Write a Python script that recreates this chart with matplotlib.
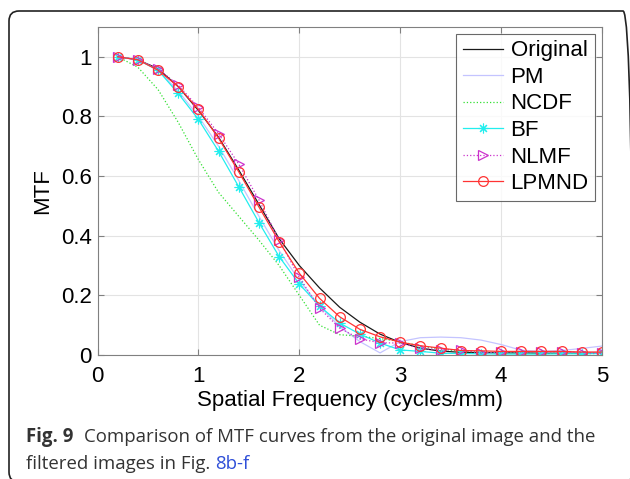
import matplotlib
matplotlib.use("Agg")
import matplotlib.pyplot as plt
from matplotlib.patches import FancyBboxPatch

freq = [0.2, 0.4, 0.6, 0.8, 1.0, 1.2, 1.4, 1.6, 1.8, 2.0, 2.2, 2.4, 2.6,
        2.8, 3.0, 3.2, 3.4, 3.6, 3.8, 4.0, 4.2, 4.4, 4.6, 4.8, 5.0]

original = [1.0, 0.99, 0.96, 0.90, 0.82, 0.73, 0.62, 0.505, 0.39, 0.30, 0.225, 0.16, 0.11,
            0.07, 0.042, 0.023, 0.013, 0.009, 0.008, 0.007, 0.007, 0.006, 0.006, 0.006, 0.006]
pm = [1.0, 0.99, 0.955, 0.885, 0.80, 0.70, 0.585, 0.465, 0.35, 0.25, 0.165, 0.095, 0.045,
      0.007, 0.045, 0.058, 0.06, 0.058, 0.05, 0.035, 0.016, 0.012, 0.015, 0.022, 0.03]
ncdf = [1.0, 0.965, 0.89, 0.78, 0.655, 0.545, 0.465, 0.385, 0.30, 0.20, 0.10, 0.068, 0.063,
        0.055, 0.045, 0.03, 0.02, 0.012, 0.01, 0.008, 0.007, 0.006, 0.006, 0.005, 0.005]
bf = [1.0, 0.99, 0.955, 0.877, 0.79, 0.683, 0.564, 0.444, 0.33, 0.238, 0.164, 0.107, 0.07,
      0.04, 0.017, 0.012, 0.006, 0.005, 0.004, 0.003, 0.003, 0.003, 0.004, 0.004, 0.005]
nlmf = [1.0, 0.99, 0.96, 0.905, 0.83, 0.742, 0.64, 0.52, 0.385, 0.26, 0.157, 0.09, 0.054,
        0.041, 0.04, 0.022, 0.018, 0.018, 0.006, 0.01, 0.01, 0.01, 0.01, 0.008, 0.005]
lpmnd = [1.0, 0.99, 0.955, 0.90, 0.824, 0.727, 0.614, 0.496, 0.38, 0.274, 0.19, 0.128, 0.086,
         0.061, 0.043, 0.031, 0.023, 0.015, 0.014, 0.012, 0.012, 0.012, 0.012, 0.01, 0.01]

plt.rcParams["font.family"] = ["Liberation Sans", "DejaVu Sans"]

fig = plt.figure(figsize=(6.3, 4.79), dpi=100)
ax = fig.add_axes([0.1548, 0.2589, 0.8008, 0.6848])

ax.plot(freq, original, color="#1a1a1a", lw=0.9, label="Original")
ax.plot(freq, pm, color="#c4c4ff", lw=0.9, label="PM")
ax.plot(freq, ncdf, color="#33e033", lw=0.9, ls=":", label="NCDF")
ax.plot(freq, bf, color="#22eeee", lw=0.9, marker=(8, 2, 0), ms=7, mew=0.8, label="BF")
ax.plot(freq, nlmf, color="#cc33cc", lw=0.9, ls=":", marker=">", ms=7, mfc="none",
        mew=0.9, label="NLMF")
ax.plot(freq, lpmnd, color="#ff3333", lw=0.9, marker="o", ms=7, mfc="none",
        mew=0.9, label="LPMND")

ax.set_xlim(0, 5)
ax.set_ylim(0, 1.1)
ax.set_xticks([0, 1, 2, 3, 4, 5])
ax.set_yticks([0, 0.2, 0.4, 0.6, 0.8, 1.0])
ax.set_yticklabels(["0", "0.2", "0.4", "0.6", "0.8", "1"])
ax.grid(True, color="#e3e3e3", lw=0.8)
ax.tick_params(direction="in", top=True, right=True, labelsize=16, length=4,
               color="#808080")
ax.tick_params(axis="x", pad=8)
ax.tick_params(axis="y", pad=4)
for s in ax.spines.values():
    s.set_color("#808080")
    s.set_linewidth(0.8)
ax.set_xlabel("Spatial Frequency (cycles/mm)", fontsize=16, labelpad=2)
ax.set_ylabel("MTF", fontsize=16, labelpad=6)

leg = ax.legend(loc="upper right", fontsize=16, frameon=True, fancybox=False,
                edgecolor="#444444", handlelength=1.8, borderaxespad=0.3,
                labelspacing=0.25, borderpad=0.3, handletextpad=0.35, numpoints=1)
leg.get_frame().set_linewidth(0.8)

# rounded frame around the whole figure panel
frame = FancyBboxPatch((0.09, -0.03), 6.24, 4.71, transform=fig.dpi_scale_trans,
                       boxstyle="round,pad=0,rounding_size=0.1", fill=False,
                       edgecolor="#222222", lw=1.2, clip_on=False)
fig.patches.append(frame)

cap_font = "Open Sans"
cap_size = 13.4
fig.text(26 / 630, 0.0772, "Fig. 9", fontsize=cap_size, fontweight="bold",
         family=cap_font, color="#333333", va="baseline")
fig.text(84 / 630, 0.0772, "Comparison of MTF curves from the original image and the",
         fontsize=cap_size, family=cap_font, color="#333333", va="baseline")
fig.text(26 / 630, 0.0209, "filtered images in Fig.", fontsize=cap_size,
         family=cap_font, color="#333333", va="baseline")
fig.text(215 / 630, 0.0209, "8b-f", fontsize=cap_size, family=cap_font, color="#2f4fd8",
         va="baseline")

fig.savefig("out.png", dpi=100)
